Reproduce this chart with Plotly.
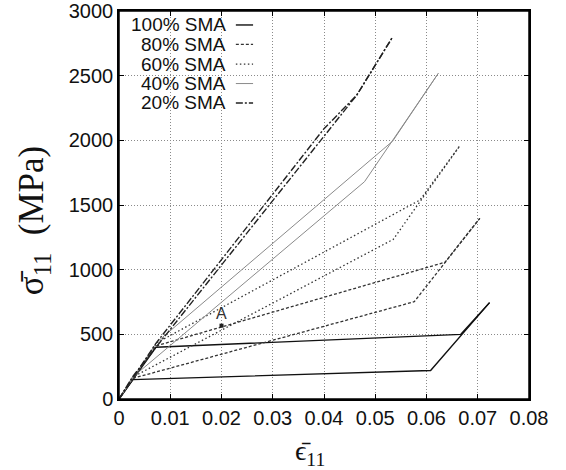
import plotly.graph_objects as go

# ---- data (strain, stress MPa) ----
labels = ["100% SMA", "80% SMA", "60% SMA", "40% SMA", "20% SMA"]

strain_100a = [0, 0.0027, 0.0608, 0.0723]
stress_100a = [0, 150, 220, 745]
strain_100b = [0, 0.0072, 0.0667, 0.0723]
stress_100b = [0, 400, 500, 745]

strain_80a = [0, 0.0027, 0.0576, 0.0704]
stress_80a = [0, 160, 752, 1397]
strain_80b = [0, 0.0072, 0.0636, 0.0704]
stress_80b = [0, 410, 1057, 1397]

strain_60a = [0, 0.0027, 0.0535, 0.0665]
stress_60a = [0, 170, 1234, 1958]
strain_60b = [0, 0.0074, 0.0587, 0.0665]
stress_60b = [0, 435, 1538, 1958]

strain_40a = [0, 0.0027, 0.0479, 0.0623]
stress_40a = [0, 170, 1680, 2518]
strain_40b = [0, 0.0074, 0.0534, 0.0623]
stress_40b = [0, 440, 1994, 2518]

strain_20a = [0, 0.0027, 0.0464, 0.0534]
stress_20a = [0, 175, 2350, 2800]
strain_20b = [0, 0.0072, 0.0400, 0.0464, 0.0534]
stress_20b = [0, 430, 2090, 2350, 2800]

point_A_strain = [0.02]
point_A_stress = [567]

x_ticks = [0, 0.01, 0.02, 0.03, 0.04, 0.05, 0.06, 0.07, 0.08]
x_ticklabels = ["0", "0.01", "0.02", "0.03", "0.04", "0.05", "0.06", "0.07", "0.08"]
y_ticks = [0, 500, 1000, 1500, 2000, 2500, 3000]

x_title = "ϵ̄<sub>11</sub>"
y_title = "σ̄<sub>11</sub>\u00a0\u00a0(MPa)"

series = [
    (labels[0], [(strain_100a, stress_100a), (strain_100b, stress_100b)], dict(color="#111111", width=1.4, dash="solid")),
    (labels[1], [(strain_80a, stress_80a), (strain_80b, stress_80b)], dict(color="#333333", width=1.3, dash="3px,2px")),
    (labels[2], [(strain_60a, stress_60a), (strain_60b, stress_60b)], dict(color="#333333", width=1.3, dash="1.5px,2.5px")),
    (labels[3], [(strain_40a, stress_40a), (strain_40b, stress_40b)], dict(color="#8a8a8a", width=1.0, dash="solid")),
    (labels[4], [(strain_20a, stress_20a), (strain_20b, stress_20b)], dict(color="#222222", width=1.4, dash="7px,2px,2px,2px")),
]

fig = go.Figure()
for name, curves, style in series:
    for xs, ys in curves:
        fig.add_trace(go.Scatter(x=xs, y=ys, mode="lines", line=style,
                                 name=name, showlegend=False, hoverinfo="skip"))

fig.add_trace(go.Scatter(x=point_A_strain, y=point_A_stress, mode="markers",
                         marker=dict(symbol="square", size=4, color="#222222"),
                         showlegend=False, hoverinfo="skip"))
fig.add_annotation(x=point_A_strain[0], y=point_A_stress[0], text="A", showarrow=False,
                   yshift=12, font=dict(family="Liberation Sans, Arial", size=16, color="#333333"))

# custom legend: right-aligned text followed by line sample
row_y = [0.964, 0.914, 0.863, 0.813, 0.763]
for (name, curves, style), ry in zip(series, row_y):
    fig.add_annotation(xref="paper", yref="paper", x=0.266, y=ry, text=name,
                       showarrow=False, xanchor="right", yanchor="middle",
                       font=dict(family="Liberation Sans, Arial", size=19, color="#111111"))
    fig.add_shape(type="line", xref="paper", yref="paper", x0=0.285, x1=0.327, y0=ry, y1=ry,
                  line=style)

# frame around the plot area
fig.add_shape(type="rect", xref="paper", yref="paper", x0=0, x1=1, y0=0, y1=1,
              line=dict(color="black", width=1.5), layer="above")

# axis titles as annotations for exact placement
title_font = dict(family="Liberation Serif, DejaVu Serif, serif", color="#111111")
fig.add_annotation(xref="paper", yref="paper", x=0.466, y=-0.137, text=x_title,
                   showarrow=False, xanchor="center", yanchor="middle",
                   font=dict(size=28, **title_font))
fig.add_annotation(xref="paper", yref="paper", x=-0.208, y=0.46, text=y_title,
                   showarrow=False, xanchor="center", yanchor="middle", textangle=-90,
                   font=dict(size=35, **title_font))

axis_common = dict(showline=True, linecolor="black", linewidth=1.5, mirror="ticks",
                   ticks="inside", ticklen=5, tickcolor="black", automargin=False,
                   showgrid=True, gridcolor="#8a8a8a", griddash="1px,2px", gridwidth=1,
                   zeroline=False,
                   tickfont=dict(family="Liberation Sans, Arial", size=20, color="#111111"))

fig.update_xaxes(range=[0, 0.08], tickvals=x_ticks, ticktext=x_ticklabels, **axis_common)
fig.update_yaxes(range=[0, 3000], tickvals=y_ticks, **axis_common)

fig.update_layout(width=566, height=470, margin=dict(l=119, r=37, t=11, b=71),
                  plot_bgcolor="white", paper_bgcolor="white", showlegend=False)

# remove the default 8px page margin so the figure fills the window exactly
fig.write_html("out.html", config={"displayModeBar": False},
               post_script="document.body.style.margin='0';document.body.style.overflow='hidden';")
